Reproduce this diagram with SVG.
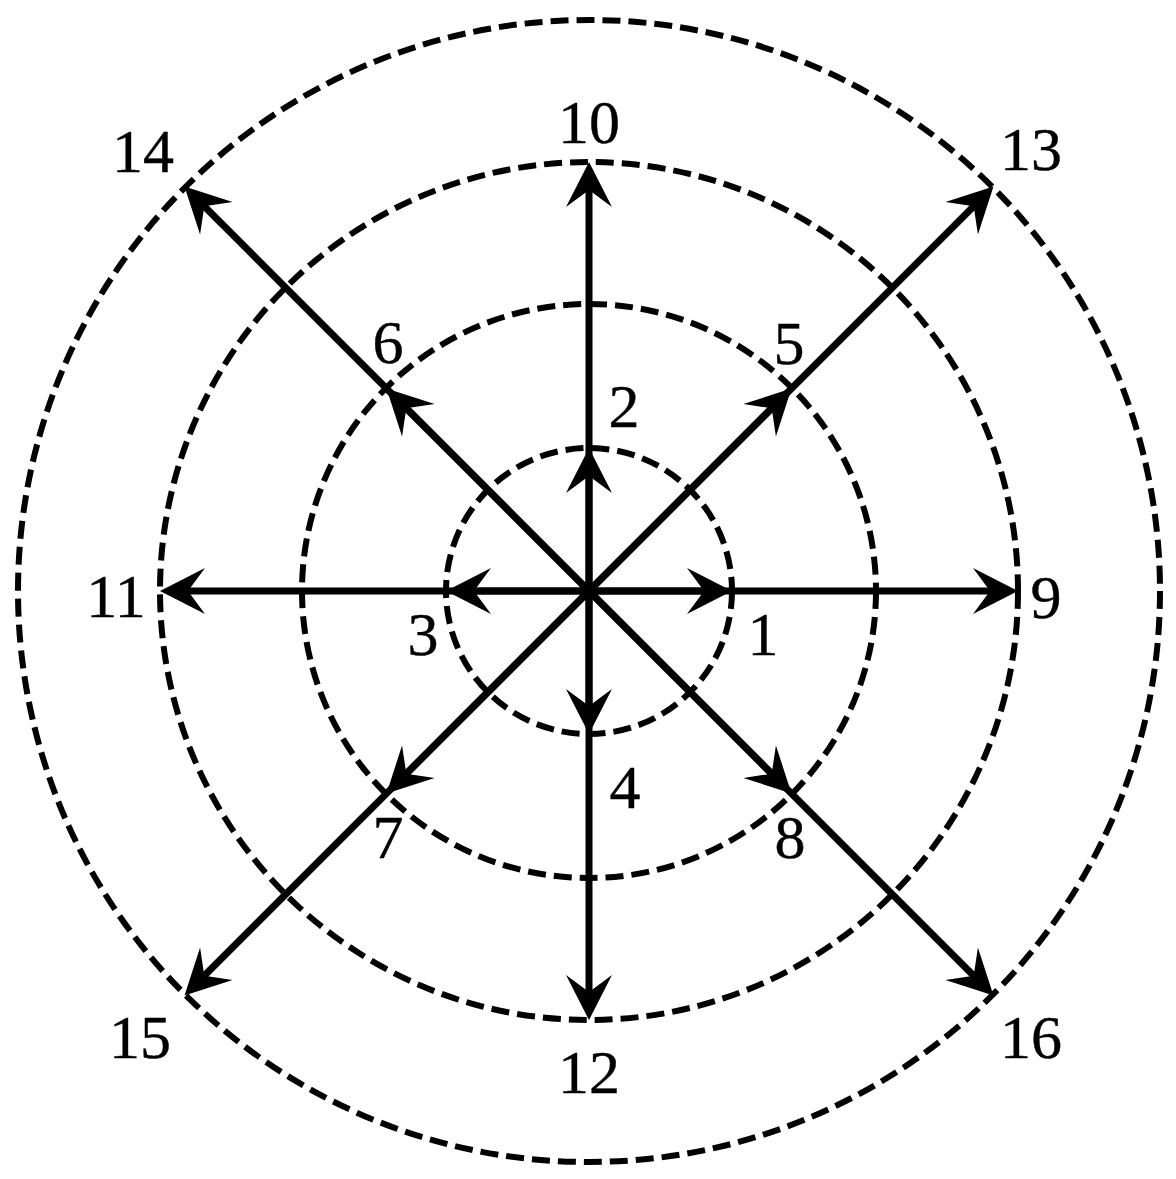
<svg xmlns="http://www.w3.org/2000/svg" width="1176" height="1179" viewBox="0 0 1176 1179">
<style>
.ring{fill:none;stroke:#000;stroke-width:6;stroke-dasharray:18 8}
.ln{fill:none;stroke:#000;stroke-width:7}
.lbl{font-family:"Liberation Serif","Times New Roman",serif;font-size:62px;fill:#000;stroke:#000;stroke-width:0.4;text-anchor:middle}
</style>
<defs>
<marker id="ah" viewBox="-34 -25 50 50" refX="0" refY="0" markerWidth="50" markerHeight="50" markerUnits="userSpaceOnUse" orient="auto">
<path d="M12,0 L-33,-23 L-16,0 L-33,23 Z" fill="#000"/>
</marker>
</defs>
<rect width="1176" height="1179" fill="#fff"/>
<g id="rings">
<circle class="ring" cx="589" cy="591" r="143"/>
<circle class="ring" cx="589" cy="591" r="287"/>
<circle class="ring" cx="589" cy="591" r="429"/>
<circle class="ring" cx="589" cy="591" r="571"/>
</g>
<g id="connectors">
<line class="ln" x1="589" y1="591" x2="1006" y2="591" marker-end="url(#ah)"/>
<line class="ln" x1="589" y1="591" x2="589" y2="174" marker-end="url(#ah)"/>
<line class="ln" x1="589" y1="591" x2="172" y2="591" marker-end="url(#ah)"/>
<line class="ln" x1="589" y1="591" x2="589" y2="1008" marker-end="url(#ah)"/>
<line class="ln" x1="589" y1="591" x2="720" y2="591" marker-end="url(#ah)"/>
<line class="ln" x1="589" y1="591" x2="589" y2="460" marker-end="url(#ah)"/>
<line class="ln" x1="589" y1="591" x2="458" y2="591" marker-end="url(#ah)"/>
<line class="ln" x1="589" y1="591" x2="589" y2="722" marker-end="url(#ah)"/>
<line class="ln" x1="589" y1="591" x2="985" y2="195" marker-end="url(#ah)"/>
<line class="ln" x1="589" y1="591" x2="193" y2="195" marker-end="url(#ah)"/>
<line class="ln" x1="589" y1="591" x2="193" y2="987" marker-end="url(#ah)"/>
<line class="ln" x1="589" y1="591" x2="985" y2="987" marker-end="url(#ah)"/>
<line class="ln" x1="589" y1="591" x2="783" y2="397" marker-end="url(#ah)"/>
<line class="ln" x1="589" y1="591" x2="395" y2="397" marker-end="url(#ah)"/>
<line class="ln" x1="589" y1="591" x2="395" y2="785" marker-end="url(#ah)"/>
<line class="ln" x1="589" y1="591" x2="783" y2="785" marker-end="url(#ah)"/>
</g>
<g id="n1"><text class="lbl" x="763" y="655">1</text></g>
<g id="n2"><text class="lbl" x="624" y="427">2</text></g>
<g id="n3"><text class="lbl" x="423" y="655">3</text></g>
<g id="n4"><text class="lbl" x="625" y="808">4</text></g>
<g id="n5"><text class="lbl" x="789" y="364">5</text></g>
<g id="n6"><text class="lbl" x="388" y="363">6</text></g>
<g id="n7"><text class="lbl" x="388" y="858">7</text></g>
<g id="n8"><text class="lbl" x="790" y="858">8</text></g>
<g id="n9"><text class="lbl" x="1046" y="618">9</text></g>
<g id="n10"><text class="lbl" x="589" y="143">10</text></g>
<g id="n11"><text class="lbl" x="116" y="617">11</text></g>
<g id="n12"><text class="lbl" x="589" y="1093">12</text></g>
<g id="n13"><text class="lbl" x="1031" y="170">13</text></g>
<g id="n14"><text class="lbl" x="143" y="172">14</text></g>
<g id="n15"><text class="lbl" x="140" y="1058">15</text></g>
<g id="n16"><text class="lbl" x="1031" y="1058">16</text></g>
</svg>
